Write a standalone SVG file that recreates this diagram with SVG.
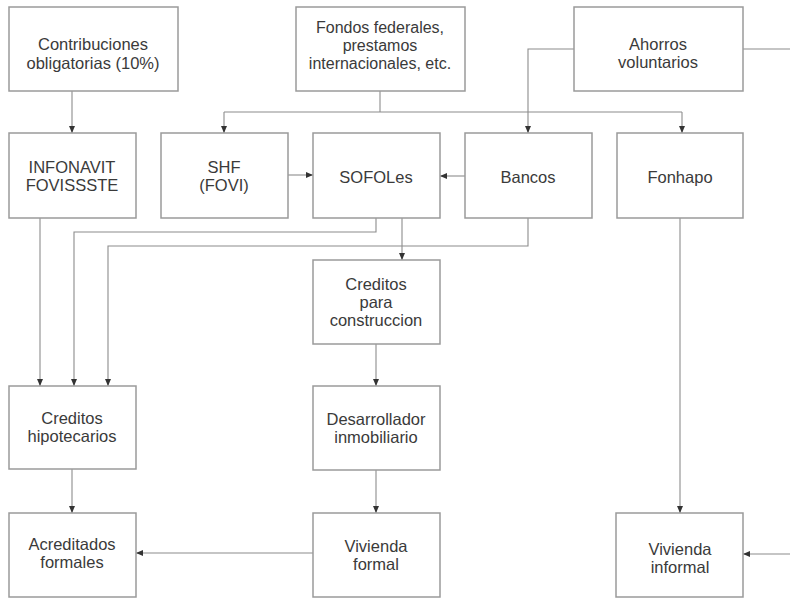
<svg xmlns="http://www.w3.org/2000/svg" width="790" height="598" viewBox="0 0 790 598">
<style>
.box{fill:#fff;stroke:#9a9a9a;stroke-width:1.5}
.t{font-family:"Liberation Sans",Arial,sans-serif;font-size:16.5px;fill:#3a3a3a;text-anchor:middle}
.c{fill:none;stroke:#8c8c8c;stroke-width:1.1}
</style>
<defs>
<marker id="ah" markerUnits="userSpaceOnUse" markerWidth="8" markerHeight="8" refX="7" refY="3.5" orient="auto">
<path d="M0,0.5 L7,3.5 L0,6.5 z" fill="#333"/>
</marker>
</defs>
<rect width="790" height="598" fill="#fff"/>
<g id="connectors">
<path class="c" d="M72,91 V133" marker-end="url(#ah)"/>
<path class="c" d="M380,91 V112"/>
<path class="c" d="M224,112 H682"/>
<path class="c" d="M224,112 V133" marker-end="url(#ah)"/>
<path class="c" d="M682,112 V133" marker-end="url(#ah)"/>
<path class="c" d="M574,49 H528 V133" marker-end="url(#ah)"/>
<path class="c" d="M743,49 H790"/>
<path class="c" d="M288,175 H313" marker-end="url(#ah)"/>
<path class="c" d="M465,176 H440" marker-end="url(#ah)"/>
<path class="c" d="M40,218 V386" marker-end="url(#ah)"/>
<path class="c" d="M376,218 V232 H74 V386" marker-end="url(#ah)"/>
<path class="c" d="M528,218 V246 H108 V386" marker-end="url(#ah)"/>
<path class="c" d="M402,218 V260" marker-end="url(#ah)"/>
<path class="c" d="M376,344 V386" marker-end="url(#ah)"/>
<path class="c" d="M376,470 V513" marker-end="url(#ah)"/>
<path class="c" d="M72,469 V513" marker-end="url(#ah)"/>
<path class="c" d="M313,553 H136" marker-end="url(#ah)"/>
<path class="c" d="M680,218 V513" marker-end="url(#ah)"/>
<path class="c" d="M790,554 H743" marker-end="url(#ah)"/>
</g>
<g id="contribuciones">
<rect class="box" x="9" y="7" width="169" height="84"/>
<text class="t" x="93" y="50">Contribuciones</text>
<text class="t" x="93" y="69">obligatorias (10%)</text>
</g>
<g id="fondos">
<rect class="box" x="296" y="7" width="169" height="84"/>
<text class="t" x="380" y="33" style="font-size:16px">Fondos federales,</text>
<text class="t" x="380" y="51" style="font-size:16px">prestamos</text>
<text class="t" x="380" y="69" style="font-size:16px">internacionales, etc.</text>
</g>
<g id="ahorros">
<rect class="box" x="574" y="7" width="169" height="84"/>
<text class="t" x="658" y="50">Ahorros</text>
<text class="t" x="658" y="68">voluntarios</text>
</g>
<g id="infonavit">
<rect class="box" x="9" y="133" width="127" height="85"/>
<text class="t" x="72" y="173">INFONAVIT</text>
<text class="t" x="72" y="191">FOVISSSTE</text>
</g>
<g id="shf">
<rect class="box" x="161" y="133" width="127" height="85"/>
<text class="t" x="224" y="173">SHF</text>
<text class="t" x="224" y="191">(FOVI)</text>
</g>
<g id="sofoles">
<rect class="box" x="313" y="133" width="127" height="85"/>
<text class="t" x="376" y="183">SOFOLes</text>
</g>
<g id="bancos">
<rect class="box" x="465" y="133" width="127" height="85"/>
<text class="t" x="528" y="183">Bancos</text>
</g>
<g id="fonhapo">
<rect class="box" x="617" y="133" width="126" height="85"/>
<text class="t" x="680" y="183">Fonhapo</text>
</g>
<g id="creditos-construccion">
<rect class="box" x="313" y="260" width="127" height="84"/>
<text class="t" x="376" y="290">Creditos</text>
<text class="t" x="376" y="308">para</text>
<text class="t" x="376" y="326">construccion</text>
</g>
<g id="creditos-hipotecarios">
<rect class="box" x="9" y="386" width="127" height="83"/>
<text class="t" x="72" y="424">Creditos</text>
<text class="t" x="72" y="442">hipotecarios</text>
</g>
<g id="desarrollador">
<rect class="box" x="313" y="386" width="127" height="84"/>
<text class="t" x="376" y="425">Desarrollador</text>
<text class="t" x="376" y="443">inmobiliario</text>
</g>
<g id="acreditados">
<rect class="box" x="9" y="513" width="127" height="84"/>
<text class="t" x="72" y="550">Acreditados</text>
<text class="t" x="72" y="568">formales</text>
</g>
<g id="vivienda-formal">
<rect class="box" x="313" y="513" width="127" height="84"/>
<text class="t" x="376" y="552">Vivienda</text>
<text class="t" x="376" y="570">formal</text>
</g>
<g id="vivienda-informal">
<rect class="box" x="616" y="513" width="127" height="84"/>
<text class="t" x="680" y="555">Vivienda</text>
<text class="t" x="680" y="573">informal</text>
</g>
</svg>
